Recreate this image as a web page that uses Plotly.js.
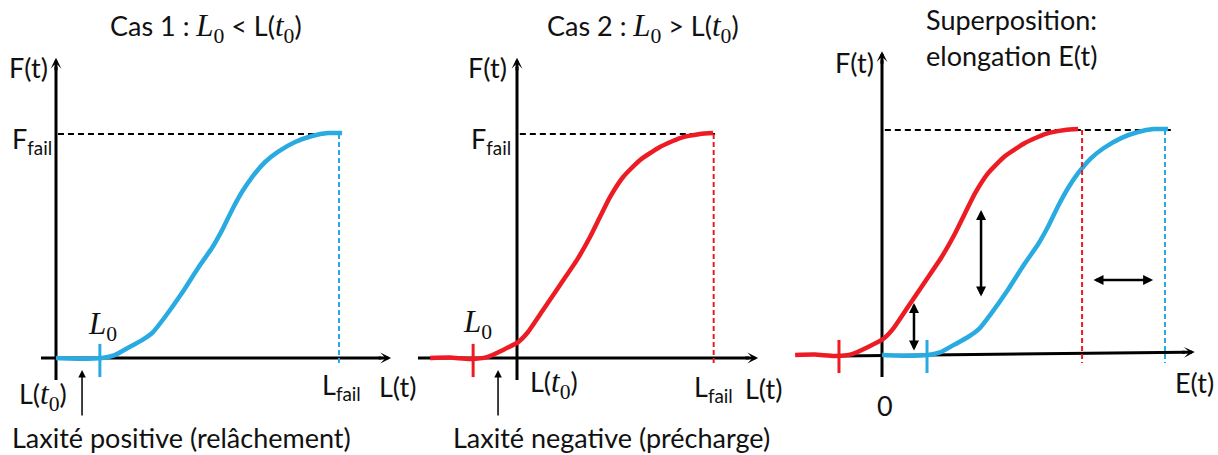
<!DOCTYPE html>
<html><head><meta charset="utf-8">
<script src="https://cdn.plot.ly/plotly-3.0.1.min.js"></script>
<style>html,body{margin:0;padding:0;background:#fff;}#chart{width:1218px;height:455px;}</style>
</head><body><div id="chart"></div>
<script>
// ---- data (abstract units: F normalised to F_fail = 1, lengths relative to L(t0) = 0) ----
const blueL = [0, 0.85, 1.63, 2.08, 2.54, 3.04, 3.43, 3.85, 4.45, 5.02, 5.51, 5.87, 6.22, 6.57, 6.93, 7.39, 7.84, 8.45, 9.05, 9.61, 10.11];
const blueF = [0, -0.003, 0, 0.013, 0.045, 0.080, 0.116, 0.183, 0.290, 0.402, 0.491, 0.571, 0.661, 0.741, 0.808, 0.875, 0.920, 0.964, 0.991, 1.004, 1.004];
const redL  = [-3.07, -2.37, -1.66, -1.06, -0.49, 0.04, 0.39, 0.92, 1.52, 2.12, 2.58, 2.93, 3.29, 3.75, 4.35, 5.05, 5.76, 6.47, 6.93];
const redF  = [0, 0.002, -0.004, 0.004, 0.036, 0.071, 0.116, 0.214, 0.326, 0.438, 0.540, 0.629, 0.719, 0.808, 0.884, 0.942, 0.982, 1.0, 1.004];
const F_FAIL = 1;
const L_FAIL_BLUE = 10.0;
const L_FAIL_RED = 6.95;
const L0_BLUE = 1.55;
const L0_RED = -1.55;

const BLUE = '#29abe2', RED = '#ed1c24';
const W = 1218, H = 455;
const px = x => x / W, py = y => 1 - y / H;
const SER = 'font-family:Liberation Serif;font-size:31px';
const L0 = `<span style="${SER}"><i>L</i><sub>0</sub></span>`;
const t0 = `<span style="${SER}"><i>t</i><sub>0</sub></span>`;
const FS = 27;

function curve(x, y, color, xa, ya) {
  return {x: x, y: y, xaxis: xa, yaxis: ya, type: 'scatter', mode: 'lines',
    line: {color: color, width: 4.5, shape: 'spline', smoothing: 0.5}, hoverinfo: 'skip', showlegend: false};
}
const traces = [
  curve(blueL, blueF, BLUE, 'x', 'y'),
  curve(redL, redF, RED, 'x2', 'y2'),
  curve(redL, redF, RED, 'x3', 'y3'),
  curve(blueL, blueF, BLUE, 'x3', 'y3')
];

function line(xr, yr, x0, y0, x1, y1, color, width, dash, layer) {
  return {type: 'line', xref: xr, yref: yr, x0: x0, y0: y0, x1: x1, y1: y1,
    line: {color: color, width: width, dash: dash || 'solid'}, layer: layer || 'above'};
}
const shapes = [];
// axes (panel 1, 2, 3)
shapes.push(line('x', 'y', 0, -0.098, 0, 1.30, '#000', 3, 'solid', 'below'));
shapes.push(line('x', 'y', -0.53, 0, 11.5, 0, '#000', 3, 'solid', 'below'));
shapes.push(line('x2', 'y2', 0, -0.098, 0, 1.30, '#000', 3, 'solid', 'below'));
shapes.push(line('x2', 'y2', -3.5, 0, 8.2, 0, '#000', 3, 'solid', 'below'));
shapes.push(line('x3', 'y3', 0, -0.098, 0, 1.31, '#000', 3, 'solid', 'below'));
shapes.push(line('x3', 'y3', -1.48, -0.004, 10.7, 0.012, '#000', 3, 'solid', 'below'));
// F_fail dashed
shapes.push(line('x', 'y', 0.07, F_FAIL, 10.1, F_FAIL, '#000', 2, '6px,4px', 'below'));
shapes.push(line('x2', 'y2', 0.1, F_FAIL, 7.0, F_FAIL, '#000', 2, '6px,4px', 'below'));
shapes.push(line('x3', 'y3', 0.1, F_FAIL, 10.3, F_FAIL, '#000', 2, '6px,4px', 'below'));
// L_fail dashed verticals
shapes.push(line('x', 'y', L_FAIL_BLUE, F_FAIL, L_FAIL_BLUE, -0.036, BLUE, 2, '5px,3px'));
shapes.push(line('x2', 'y2', L_FAIL_RED, F_FAIL, L_FAIL_RED, -0.036, RED, 2, '5px,3px'));
shapes.push(line('x3', 'y3', L_FAIL_RED + 0.12, F_FAIL, L_FAIL_RED + 0.12, -0.036, RED, 2, '5px,3px'));
shapes.push(line('x3', 'y3', L_FAIL_BLUE, F_FAIL, L_FAIL_BLUE, -0.036, BLUE, 2, '5px,3px'));
// L0 ticks
shapes.push(line('x', 'y', L0_BLUE, 0.063, L0_BLUE, -0.085, BLUE, 3));
shapes.push(line('x2', 'y2', L0_RED, 0.063, L0_RED, -0.085, RED, 3));
shapes.push(line('x3', 'y3', L0_RED + 0.03, 0.067, L0_RED + 0.03, -0.08, RED, 3));
shapes.push(line('x3', 'y3', L0_BLUE + 0.04, 0.067, L0_BLUE + 0.04, -0.08, BLUE, 3));

const ann = [];
function lab(text, x, y, opts) {
  ann.push(Object.assign({text: text, xref: 'paper', yref: 'paper', x: px(x), y: py(y),
    xanchor: 'center', yanchor: 'middle', showarrow: false, borderpad: 0, font: {size: FS, color: '#111'}}, opts || {}));
}
function head(xr, yr, x, y, ax, ay) {
  ann.push({text: '', xref: xr, yref: yr, x: x, y: y, ax: ax, ay: ay, showarrow: true,
    arrowhead: 3, arrowsize: 0.6, arrowwidth: 3, arrowcolor: '#000'});
}
function arr(xr, yr, x, y, ax, ay, w, both, size) {
  ann.push({text: '', xref: xr, yref: yr, axref: xr, ayref: yr, x: x, y: y, ax: ax, ay: ay, showarrow: true,
    arrowhead: 2, startarrowhead: 2, arrowside: both ? 'end+start' : 'end', arrowsize: size, startarrowsize: size,
    arrowwidth: w, arrowcolor: '#000'});
}
// axis arrowheads
head('x', 'y', 0, 1.34, 0, 14); head('x', 'y', 11.84, 0, -14, 0);
head('x2', 'y2', 0, 1.34, 0, 14); head('x2', 'y2', 8.52, 0, -14, 0);
head('x3', 'y3', 0, 1.35, 0, 14); head('x3', 'y3', 11.05, 0.013, -14, 0.3);
// laxity arrows
arr('x', 'y', 0.92, -0.054, 0.92, -0.263, 1.5, false, 1);
arr('x2', 'y2', -0.67, -0.054, -0.67, -0.263, 1.5, false, 1);
// double arrows (panel 3)
arr('x3', 'y3', 3.5, 0.644, 3.5, 0.253, 2.5, true, 0.8);
arr('x3', 'y3', 1.13, 0.231, 1.13, 0.013, 2.5, true, 0.8);
arr('x3', 'y3', 9.58, 0.333, 7.42, 0.333, 2.5, true, 0.8);

const L0lab = '<i>L</i><sub>0</sub>';
const L0big = {font: {size: 31, color: '#111', family: 'Liberation Serif'}};
// labels panel 1
lab(`Cas 1 : ${L0} &lt; L(${t0})`, 206, 28);
lab('F(t)', 28, 67);
lab('F<sub>fail</sub>', 32, 140);
lab(L0lab, 103, 326, L0big);
lab(`L(${t0})`, 43, 396);
lab('L<sub>fail</sub>', 341, 386);
lab('L(t)', 397, 386);
lab('Laxité positive (relâchement)', 181, 437);
// labels panel 2
lab(`Cas 2 : ${L0} &gt; L(${t0})`, 643, 28);
lab('F(t)', 487, 67);
lab('F<sub>fail</sub>', 491, 140);
lab(L0lab, 477, 324, L0big);
lab(`L(${t0})`, 554, 384);
lab('L<sub>fail</sub>', 713, 388);
lab('L(t)', 763, 388);
lab('Laxité negative (précharge)', 611, 437);
// labels panel 3
lab('Superposition:', 925, 20, {xanchor: 'left'});
lab('elongation E(t)', 925, 55, {xanchor: 'left'});
lab('F(t)', 854, 63);
lab('0', 885, 405);
lab('E(t)', 1194, 382);

function xa(d0, d1, r0, r1, anchor) {
  return {domain: [d0, d1], range: [r0, r1], visible: false, fixedrange: true, anchor: anchor};
}
function ya(r0, r1, anchor) {
  return {domain: [0, 1], range: [r0, r1], visible: false, fixedrange: true, anchor: anchor};
}
const U = 28.3;
const layout = {
  width: W, height: H, margin: {l: 0, r: 0, t: 0, b: 0},
  paper_bgcolor: '#fff', plot_bgcolor: 'rgba(0,0,0,0)',
  font: {family: 'Lato, sans-serif', size: FS, color: '#111'},
  showlegend: false,
  xaxis: xa(0, 410 / W, -56 / U, 354 / U, 'y'),
  yaxis: ya(-97 / 224, 358 / 224, 'x'),
  xaxis2: xa(410 / W, 780 / W, -107 / U, 263 / U, 'y2'),
  yaxis2: ya(-97 / 224, 358 / 224, 'x2'),
  xaxis3: xa(780 / W, 1, -102 / U, 336 / U, 'y3'),
  yaxis3: ya(-100 / 225, 355 / 225, 'x3'),
  shapes: shapes, annotations: ann
};
Plotly.newPlot('chart', traces, layout, {displayModeBar: false, staticPlot: true});
</script></body></html>
